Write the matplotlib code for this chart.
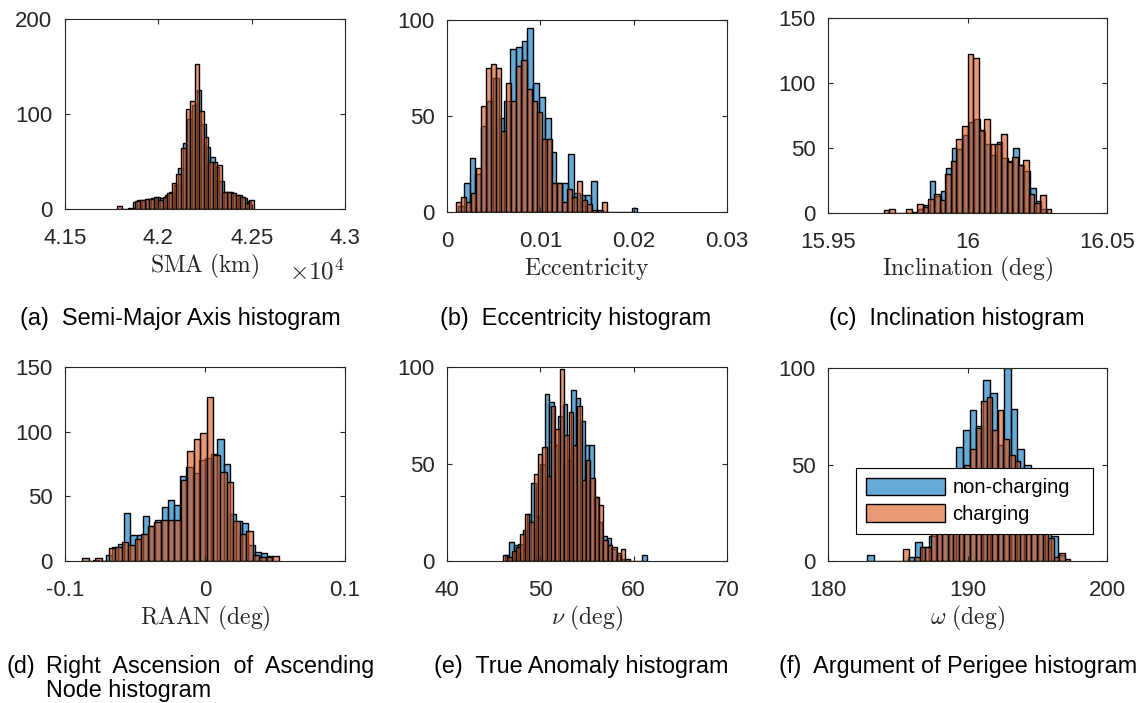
import numpy as np
import matplotlib.pyplot as plt
from matplotlib.ticker import FuncFormatter

# bin counts read per histogram: (first bin edge, bin width, counts)
# semi-major axis, km
sma_nc_start, sma_nc_width = 41839, 24.4
sma_nc = [1, 7, 10, 10, 11, 12, 13, 12, 15, 18, 25, 43, 69, 95, 110, 125, 90, 65,
          55, 44, 30, 18, 18, 15, 15, 12, 8]
sma_c_start, sma_c_width = 41780, 24.4
sma_c = [3, 0, 0, 0, 8, 9, 11, 11, 13, 9, 13, 17, 27, 37, 64, 105, 114, 153, 103,
         76, 49, 49, 46, 18, 18, 17, 15, 13, 6, 10]

# eccentricity
ecc_nc_start, ecc_nc_width = 0.00118, 0.00062
ecc_nc = [3, 15, 28, 20, 45, 58, 70, 49, 58, 85, 86, 89, 96, 67, 60, 49, 31, 15, 15,
          30, 10, 9, 9, 16, 1, 0, 0, 0, 0, 0, 2]
ecc_c_start, ecc_c_width = 0.00096, 0.00054
ecc_c = [5, 8, 5, 10, 23, 55, 75, 77, 75, 42, 67, 58, 76, 79, 64, 58, 52, 38, 38, 15,
         15, 5, 12, 8, 16, 6, 4, 1, 0, 5]

# inclination, deg
inc_nc_start, inc_nc_width = 15.9824, 0.002
inc_nc = [3, 6, 25, 13, 17, 35, 50, 49, 60, 70, 72, 63, 53, 45, 55, 42, 40, 50, 37,
          32, 19, 9, 3]
inc_c_start, inc_c_width = 15.970, 0.002
inc_c = [2, 3, 0, 0, 3, 1, 7, 5, 11, 15, 10, 30, 40, 57, 67, 122, 119, 64, 72, 53,
         53, 61, 39, 43, 37, 41, 15, 8, 14, 3]

# RAAN, deg
raan_nc_start, raan_nc_width = -0.0798, 0.00443
raan_nc = [1, 0, 5, 11, 13, 37, 20, 20, 35, 27, 32, 42, 47, 43, 66, 73, 68, 78, 80,
           83, 94, 75, 36, 31, 29, 12, 7, 6, 4]
raan_c_start, raan_c_width = -0.0876, 0.00468
raan_c = [2, 0, 2, 0, 10, 11, 15, 12, 17, 21, 27, 30, 32, 32, 32, 63, 85, 94, 99, 127,
          82, 69, 61, 31, 21, 23, 5, 3, 3, 4]

# true anomaly, deg
nu_nc_start, nu_nc_width = 46.2, 0.475
nu_nc = [3, 10, 8, 9, 16, 24, 40, 23, 50, 86, 82, 60, 75, 81, 52, 88, 84, 72, 60, 60,
         33, 20, 13, 12, 6, 3, 1, 0, 0, 0, 0, 3]
nu_c_start, nu_c_width = 46.0, 0.468
nu_c = [3, 2, 5, 7, 14, 24, 20, 45, 55, 59, 44, 80, 68, 99, 65, 77, 60, 80, 42, 52,
        43, 33, 29, 11, 8, 7, 4, 6, 1]

# argument of perigee, deg
aop_nc_start, aop_nc_width = 182.82, 0.4887
aop_nc = [3, 0, 0, 0, 0, 0, 2, 10, 7, 13, 25, 35, 45, 59, 68, 78, 70, 94, 87, 60, 100,
          79, 58, 50, 40, 30, 20, 13, 3]
aop_c_start, aop_c_width = 185.38, 0.40
aop_c = [6, 0, 2, 7, 7, 14, 20, 26, 33, 40, 45, 50, 58, 69, 83, 85, 68, 78, 63, 55,
         52, 40, 32, 25, 20, 15, 12, 2, 4, 1]

W, H = 1141, 703
BLUE = (0.0, 0.447, 0.741, 0.6)
ORANGE = (0.85, 0.325, 0.098, 0.6)
AXCOL = '#262626'

plt.rcParams['font.family'] = ['Liberation Sans', 'DejaVu Sans']
plt.rcParams['mathtext.fontset'] = 'cm'
plt.rcParams['axes.edgecolor'] = AXCOL
plt.rcParams['axes.linewidth'] = 0.8
plt.rcParams['xtick.color'] = AXCOL
plt.rcParams['ytick.color'] = AXCOL

fig = plt.figure(figsize=(W / 100, H / 100), dpi=100)


def add_ax(l, t, r, b):
    return fig.add_axes([l / W, 1 - b / H, (r - l) / W, (b - t) / H])


def hist(ax, start, width, counts, color, label):
    left = start + width * np.arange(len(counts))
    ax.bar(left, counts, width=width, align='edge', color=color,
           edgecolor='black', linewidth=1.0, label=label)


def setup(ax, xlim, xticks, yticks, xlabel, label_px, scale=1.0):
    ax.set_xlim(xlim)
    ax.set_ylim(yticks[0], yticks[-1])
    ax.set_xticks(xticks)
    ax.set_yticks(yticks)
    ax.xaxis.set_major_formatter(FuncFormatter(lambda v, p: f'{v / scale:g}'))
    ax.tick_params(direction='in', top=True, right=True, length=3.5, width=0.8,
                   labelsize=16, labelcolor=AXCOL)
    ax.tick_params(axis='x', pad=13.5)
    ax.tick_params(axis='y', pad=9)
    ax.set_xlabel(xlabel, fontsize=17, va='baseline', color=AXCOL)
    h = ax.get_position().height * H
    ax.xaxis.set_label_coords(0.5, -label_px / h)


panels = [
    ((65, 19, 345, 209), (41500, 43000), [41500, 42000, 42500, 43000], [0, 100, 200],
     r'$\mathrm{SMA\ (km)}$', 63, 1e4,
     (sma_nc_start, sma_nc_width, sma_nc), (sma_c_start, sma_c_width, sma_c)),
    ((447, 20, 727, 212), (0, 0.03), [0, 0.01, 0.02, 0.03], [0, 50, 100],
     r'$\mathrm{Eccentricity}$', 63, 1.0,
     (ecc_nc_start, ecc_nc_width, ecc_nc), (ecc_c_start, ecc_c_width, ecc_c)),
    ((828, 18, 1107, 213), (15.95, 16.05), [15.95, 16.0, 16.05], [0, 50, 100, 150],
     r'$\mathrm{Inclination\ (deg)}$', 62, 1.0,
     (inc_nc_start, inc_nc_width, inc_nc), (inc_c_start, inc_c_width, inc_c)),
    ((65, 367, 345, 561), (-0.1, 0.1), [-0.1, 0.0, 0.1], [0, 50, 100, 150],
     r'$\mathrm{RAAN\ (deg)}$', 63, 1.0,
     (raan_nc_start, raan_nc_width, raan_nc), (raan_c_start, raan_c_width, raan_c)),
    ((447, 367, 727, 561), (40, 70), [40, 50, 60, 70], [0, 50, 100],
     r'$\nu\ \mathrm{(deg)}$', 63, 1.0,
     (nu_nc_start, nu_nc_width, nu_nc), (nu_c_start, nu_c_width, nu_c)),
    ((828, 368, 1107, 561), (180, 200), [180, 190, 200], [0, 50, 100],
     r'$\omega\ \mathrm{(deg)}$', 63, 1.0,
     (aop_nc_start, aop_nc_width, aop_nc), (aop_c_start, aop_c_width, aop_c)),
]

axes = []
for box, xlim, xticks, yticks, xlabel, lab_px, scale, nc, ch in panels:
    ax = add_ax(*box)
    hist(ax, *nc, BLUE, 'non-charging')
    hist(ax, *ch, ORANGE, 'charging')
    setup(ax, xlim, xticks, yticks, xlabel, lab_px, scale)
    axes.append(ax)

# exponent for the SMA axis
axes[0].text(1.0, -71 / 190, r'$\times\mathsf{10^{4}}$', transform=axes[0].transAxes,
             ha='right', va='baseline', fontsize=18, color=AXCOL)

leg = axes[5].legend(loc='lower left', bbox_to_anchor=(0.10, 0.14, 0.85, 0.34),
                     mode='expand', fontsize=14.5, fancybox=False, framealpha=1,
                     edgecolor='black', handlelength=3.9, handleheight=0.95,
                     handletextpad=0.4, labelspacing=0.35, borderpad=0.5,
                     borderaxespad=0)
leg.get_frame().set_linewidth(0.8)

# sub-figure captions
cap = dict(fontsize=16.8, va='baseline', color='black')
fig.text(180 / W, 1 - 325 / H, '(a)  Semi-Major Axis histogram', ha='center', **cap)
fig.text(576 / W, 1 - 325 / H, '(b)  Eccentricity histogram', ha='center', **cap)
fig.text(957 / W, 1 - 325 / H, '(c)  Inclination histogram', ha='center', **cap)
fig.text(7 / W, 1 - 673 / H, '(d)', ha='left', **cap)
fig.text(46 / W, 1 - 673 / H, 'Right  Ascension  of  Ascending', ha='left', **cap)
fig.text(46 / W, 1 - 697 / H, 'Node histogram', ha='left', **cap)
fig.text(581 / W, 1 - 673 / H, '(e)  True Anomaly histogram', ha='center', **cap)
fig.text(958 / W, 1 - 673 / H, '(f)  Argument of Perigee histogram', ha='center', **cap)

fig.savefig('out.png', dpi=100)
